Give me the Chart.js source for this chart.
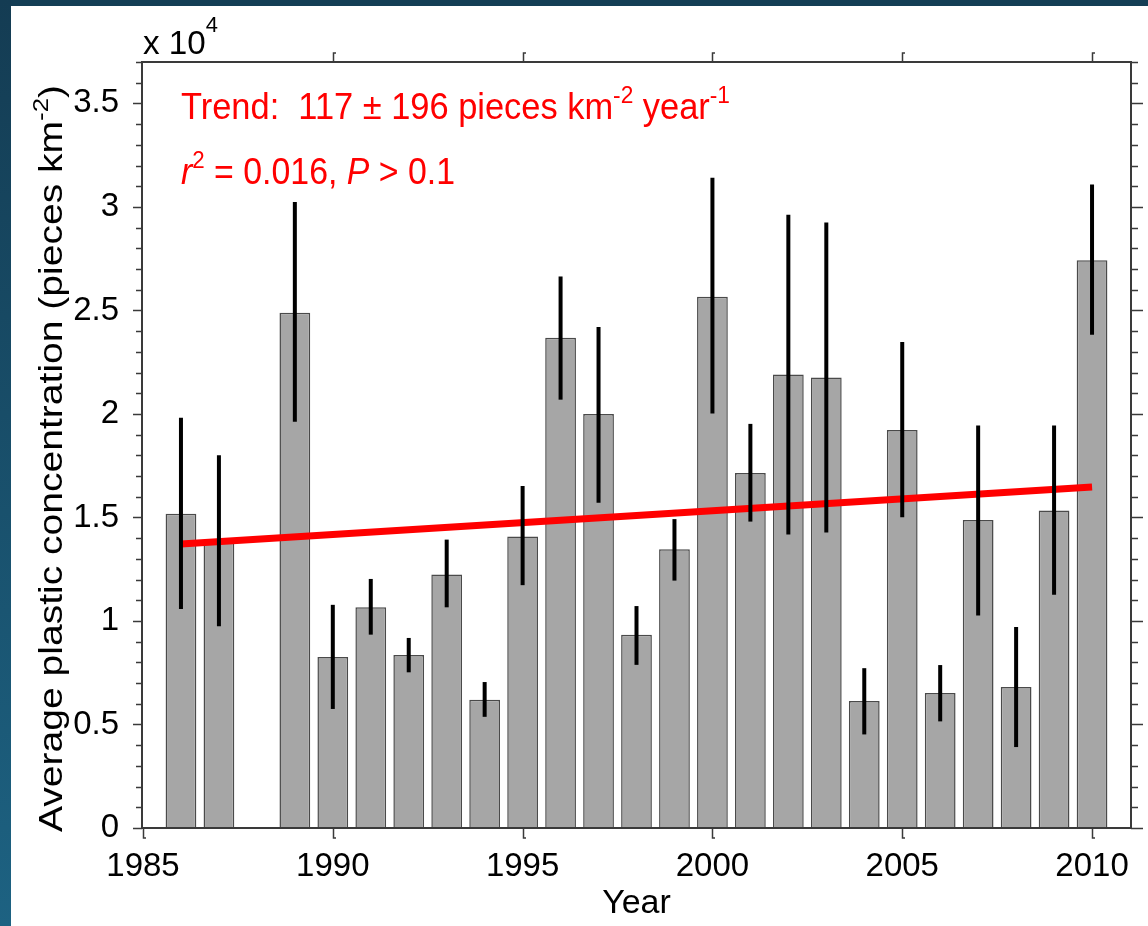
<!DOCTYPE html>
<html><head><meta charset="utf-8">
<script src="https://cdn.jsdelivr.net/npm/chart.js@4"></script>
<style>
html,body{margin:0;padding:0;width:1148px;height:926px;overflow:hidden;background:#fff;}
#topbar{position:absolute;left:0;top:0;width:1148px;height:6px;background:#143e55;}
#leftbar{position:absolute;left:0;top:0;width:11px;height:926px;background:linear-gradient(#143c53,#1d6282);}
#wrap{position:absolute;left:0;top:0;width:1148px;height:926px;}
</style></head><body>
<div id="topbar"></div><div id="leftbar"></div>
<div id="wrap"><canvas id="c" width="1148" height="926"></canvas></div>
<script>
// ---- data (values in units of 10^4 pieces km^-2) ----
const years   = [1986,1987,1989,1990,1991,1992,1993,1994,1995,1996,1997,1998,1999,2000,2001,2002,2003,2004,2005,2006,2007,2008,2009,2010];
const means   = [1.518,1.387,2.489,0.826,1.066,0.836,1.224,0.620,1.408,2.368,2.000,0.934,1.347,2.566,1.715,2.190,2.176,0.613,1.922,0.652,1.488,0.681,1.534,2.742];
const errLow  = [1.058,0.974,1.962,0.575,0.934,0.752,1.066,0.537,1.173,2.069,1.571,0.788,1.195,2.002,1.480,1.418,1.427,0.452,1.501,0.515,1.027,0.391,1.127,2.383];
const errHigh = [1.982,1.800,3.024,1.078,1.203,0.918,1.393,0.705,1.652,2.664,2.420,1.072,1.492,3.141,1.952,2.962,2.925,0.772,2.348,0.787,1.944,0.971,1.944,3.108];
const trendYears  = [1986, 2010];
const trendValues = [1.372, 1.647];
const xTickLabels = [1985,1990,1995,2000,2005,2010];
const yTickLabels = [0,0.5,1,1.5,2,2.5,3,3.5];
const yMinorStep = 0.1;

const FONT = '"Liberation Sans", Arial, sans-serif';

function drawRich(ctx, runs, x, y, size, color, opts) {
  opts = opts || {};
  const supScale = opts.supScale || 0.66;
  const supRaise = opts.supRaise || 0.42;
  ctx.save();
  ctx.fillStyle = color;
  ctx.textBaseline = 'alphabetic';
  ctx.textAlign = 'left';
  const fontFor = r => (r.it ? 'italic ' : '') + (r.sup ? size * supScale : size) + 'px ' + FONT;
  let total = 0;
  const widths = runs.map(r => { ctx.font = fontFor(r); const w = ctx.measureText(r.t).width; total += w; return w; });
  const sx = opts.fitWidth ? opts.fitWidth / total : 1;
  ctx.translate(x, y);
  if (opts.rotate) ctx.rotate(opts.rotate);
  ctx.scale(sx, 1);
  let cx = 0;
  runs.forEach((r, i) => {
    ctx.font = fontFor(r);
    ctx.fillText(r.t, cx, r.sup ? -size * supRaise : 0);
    cx += widths[i];
  });
  ctx.restore();
}

const decorPlugin = {
  id: 'decor',
  afterDatasetsDraw(chart) {
    const ctx = chart.ctx;
    const xs = chart.scales.x, ys = chart.scales.y;
    ctx.save();
    ctx.strokeStyle = '#000';
    ctx.lineWidth = 4;
    ctx.lineCap = 'butt';
    years.forEach((yr, i) => {
      const px = xs.getPixelForValue(yr);
      ctx.beginPath();
      ctx.moveTo(px, ys.getPixelForValue(errLow[i]));
      ctx.lineTo(px, ys.getPixelForValue(errHigh[i]));
      ctx.stroke();
    });
    ctx.restore();
  },
  afterDraw(chart) {
    const ctx = chart.ctx;
    const xs = chart.scales.x, ys = chart.scales.y;
    const a = chart.chartArea;
    ctx.save();
    ctx.strokeStyle = '#3a3a3a';
    ctx.lineWidth = 2;
    ctx.strokeRect(a.left - 1, a.top, a.right - a.left + 2, a.bottom - a.top);
    ctx.lineWidth = 1.5;
    const nMinor = Math.round(ys.max / yMinorStep);
    for (let k = 0; k <= nMinor; k++) {
      const v = k * yMinorStep;
      const py = Math.round(ys.getPixelForValue(v)) + 0.5;
      const major = yTickLabels.some(t => Math.abs(t - v) < 1e-6);
      ctx.beginPath();
      ctx.moveTo(a.left - 1, py); ctx.lineTo(a.left - (major ? 10 : 7), py);
      ctx.moveTo(a.right + 1, py); ctx.lineTo(a.right + (major ? 13 : 8), py);
      ctx.stroke();
    }
    xTickLabels.forEach(v => {
      const px = Math.round(xs.getPixelForValue(v)) + 0.5;
      ctx.beginPath();
      ctx.moveTo(px, a.bottom); ctx.lineTo(px, a.bottom + 10); ctx.lineTo(px + 2.5, a.bottom + 10);
      ctx.stroke();
      if (v > xs.min) {
        ctx.beginPath();
        ctx.moveTo(px, a.top); ctx.lineTo(px, a.top - 9); ctx.lineTo(px + 2.5, a.top - 9);
        ctx.stroke();
      }
    });
    ctx.restore();

    drawRich(ctx, [{t: 'x 10'}, {t: '4', sup: true}], 143, 54, 34, '#000', {supScale: 0.66, supRaise: 0.66, fitWidth: 75});
    drawRich(ctx, [{t: 'Trend:  117 \u00b1 196 pieces km'}, {t: '-2', sup: true}, {t: ' year'}, {t: '-1', sup: true}],
      181, 119, 37, '#ff0000', {fitWidth: 549});
    drawRich(ctx, [{t: 'r', it: true}, {t: '2', sup: true}, {t: ' = 0.016, '}, {t: 'P', it: true}, {t: ' > 0.1'}],
      181, 184, 37, '#ff0000', {fitWidth: 274});
    drawRich(ctx, [{t: 'Average plastic concentration (pieces km'}, {t: '-2', sup: true}, {t: ')'}],
      62, 832, 34, '#000', {rotate: -Math.PI / 2, fitWidth: 747});
    ctx.save();
    ctx.font = '34px ' + FONT;
    ctx.fillStyle = '#000';
    ctx.textAlign = 'center';
    ctx.textBaseline = 'alphabetic';
    ctx.fillText('Year', (a.left + a.right) / 2, 913);
    ctx.restore();
  }
};

new Chart(document.getElementById('c'), {
  type: 'bar',
  data: {
    datasets: [
      {
        type: 'line',
        data: trendYears.map((x, i) => ({x, y: trendValues[i]})),
        borderColor: '#ff0000', borderWidth: 7, pointRadius: 0, tension: 0, order: 0
      },
      {
        type: 'bar',
        data: years.map((x, i) => ({x, y: means[i]})),
        backgroundColor: '#a6a6a6', borderColor: '#4a4a4a', borderWidth: 1.5,
        barPercentage: 0.81, categoryPercentage: 1, order: 1
      }
    ]
  },
  options: {
    responsive: false, animation: false,
    layout: {padding: {left: 0, top: 62, right: 18, bottom: 0}},
    plugins: {legend: {display: false}, tooltip: {enabled: false}},
    scales: {
      x: {
        type: 'linear', min: 1985, max: 2011, offset: false,
        grid: {display: false, offset: false}, border: {display: false},
        afterBuildTicks: s => { s.ticks = xTickLabels.map(v => ({value: v})); },
        afterFit: s => { s.height = 98; },
        ticks: {font: {family: FONT, size: 33}, color: '#000', padding: 11, maxRotation: 0, autoSkip: false,
                callback: v => String(v)}
      },
      y: {
        min: 0, max: 3.7,
        grid: {display: false}, border: {display: false},
        afterBuildTicks: s => { s.ticks = yTickLabels.map(v => ({value: v})); },
        afterFit: s => { s.width = 143; },
        ticks: {font: {family: FONT, size: 33}, color: '#000', padding: 16, autoSkip: false,
                callback: v => String(v)}
      }
    }
  },
  plugins: [decorPlugin]
});
</script>
</body></html>
